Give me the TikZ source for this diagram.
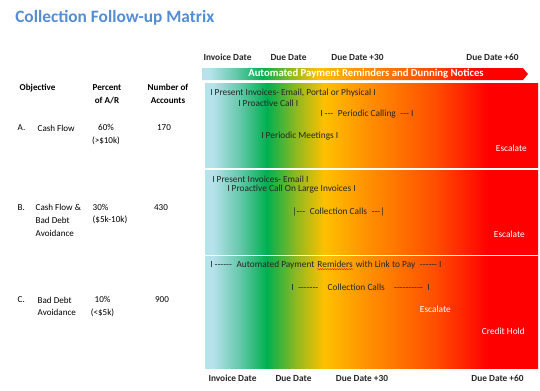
\documentclass[tikz,border=0pt]{standalone}
\usepackage{fontspec}
\setmainfont{Carlito}[Ligatures=TeXOff]
\usetikzlibrary{decorations.pathmorphing}

\definecolor{titleblue}{RGB}{84,141,212}
\definecolor{iceblue}{RGB}{182,226,236}
\definecolor{tealmid}{RGB}{100,200,170}
\definecolor{goodgreen}{RGB}{0,176,80}
\definecolor{olivemid}{RGB}{150,185,30}
\definecolor{gold}{RGB}{255,192,0}
\definecolor{amber}{RGB}{255,150,0}
\definecolor{deeporange}{RGB}{255,80,0}
\definecolor{alarmred}{RGB}{255,0,0}

% left to right: invoice date -> due date +60
\pgfdeclarehorizontalshading{overdue}{100bp}{
    color(0bp)=(iceblue); color(25bp)=(iceblue); color(26.2bp)=(iceblue);
    color(30.2bp)=(tealmid); color(34.3bp)=(goodgreen);
    color(38.9bp)=(olivemid); color(42.9bp)=(gold);
    color(48.6bp)=(amber); color(59.3bp)=(deeporange);
    color(67.5bp)=(alarmred); color(100bp)=(alarmred)}

\tikzset{
    hdr/.style={font=\bfseries\fontsize{6.8}{9.5}\selectfont},
    cell/.style={font=\fontsize{6.8}{9.5}\selectfont},
    note/.style={font=\fontsize{7}{8}\selectfont, anchor=west, text=black!85, inner sep=0pt},
    alert/.style={font=\fontsize{7}{8}\selectfont, anchor=east, text=white, inner sep=0pt},
    datelbl/.style={font=\bfseries\fontsize{7}{8}\selectfont, text=black!85, anchor=base, inner sep=0pt},
    spellwave/.style={red, line width=0.3pt, decorate,
        decoration={snake, amplitude=0.4pt, segment length=1.8pt}}
}

\begin{document}
\begin{tikzpicture}[x=0.75pt,y=-0.75pt]
    \path[use as bounding box] (0,0) rectangle (540,390);

    % Title
    \node[font=\bfseries\fontsize{13}{15}\selectfont, text=titleblue, anchor=west, inner sep=0pt]
        (title) at (15,18) {Collection Follow-up Matrix};

    % Dates, top and bottom
    \foreach \x/\n/\t in {227.5/inv/Invoice Date, 288.5/due/Due Date,
        357.5/thirty/Due Date +30, 492.5/sixty/Due Date +60}
    {
      \node[datelbl] (top\n) at (\x,60.5) {\t};
    }
    \foreach \x/\n/\t in {232.5/inv/Invoice Date, 293.5/due/Due Date,
        362/thirty/Due Date +30, 497.5/sixty/Due Date +60}
    {
      \node[datelbl] (bot\n) at (\x,381.5) {\t};
    }

    % Banner
    \shade[shading=overdue] (202,68) -- (523,68) -- (528,74) -- (523,80) -- (202,80) -- cycle;
    \node[font=\bfseries\fontsize{8}{9}\selectfont, text=white] (banner) at (366,74)
        {Automated Payment Reminders and Dunning Notices};

    % Panels
    \foreach \ya/\yb in {83/167, 170/254, 256/368}
    {
      \shade[shading=overdue] (205,\ya) rectangle (538,\yb);
    }

    % Column heads
    \node[hdr, anchor=west] (objective) at (15,88) {Objective};
    \node[hdr, align=center] (percent) at (107,94) {Percent\\of A/R};
    \node[hdr, align=center] (accounts) at (168,94) {Number of\\Accounts};

    % Row A
    \node[cell, anchor=west] (rowA) at (13,128) {A.};
    \node[cell, anchor=west] (objA) at (33,128) {Cash Flow};
    \node[cell, align=center] (pctA) at (106,134.5) {60\%\\(>\$10k)};
    \node[cell] (numA) at (164,128) {170};

    % Row B
    \node[cell, anchor=west] (rowB) at (13,208) {B.};
    \node[cell, anchor=west, align=left] (objB) at (31,220.5) {Cash Flow \&\\Bad Debt\\Avoidance};
    \node[cell, anchor=west, align=left] (pctB) at (88,214) {30\%\\(\$5k-10k)};
    \node[cell] (numB) at (161,208) {430};

    % Row C
    \node[cell, anchor=west] (rowC) at (13,300) {C.};
    \node[cell, anchor=west, align=left] (objC) at (33,306.5) {Bad Debt\\Avoidance};
    \node[cell, align=center] (pctC) at (102.5,306.5) {10\%\\(<\$5k)};
    \node[cell] (numC) at (162,300) {900};

    % Panel A
    \node[note] (invA) at (210,93) {I Present Invoices- Email, Portal or Physical I};
    \node[note] (callA) at (238,103) {I Proactive Call I};
    \node[note] (periodA) at (320,114) {I ---\enspace Periodic Calling\enspace --- I};
    \node[note] (meetA) at (261,136) {I Periodic Meetings I};
    \node[alert] (escA) at (527,148) {Escalate};

    % Panel B
    \node[note] (invB) at (212,179) {I Present Invoices- Email I};
    \node[note] (callB) at (227,189) {I Proactive Call On Large Invoices I};
    \node[note] (collB) at (292,212) {|---\enspace Collection Calls\enspace ---|};
    \node[alert] (escB) at (525,234) {Escalate};

    % Panel C
    \node[note] (autoC) at (210,265) {I ------\enspace Automated Payment};
    \node[note, anchor=base west] (remC) at ([xshift=1.8pt]autoC.base east) {Remiders};
    \node[note, anchor=base west] (linkC) at ([xshift=1.8pt]remC.base east)
        {with Link to Pay\enspace ------ I};
    \draw[spellwave] ([yshift=-1.2pt]remC.base west) -- ([yshift=-1.2pt]remC.base east);
    \node[note] (collC) at (291,287)
        {I\enspace -------\quad Collection Calls\quad ----------\enspace I};
    \node[alert] (escC) at (451,309) {Escalate};
    \node[alert] (holdC) at (525,331) {Credit Hold};
  \end{tikzpicture}
\end{document}
